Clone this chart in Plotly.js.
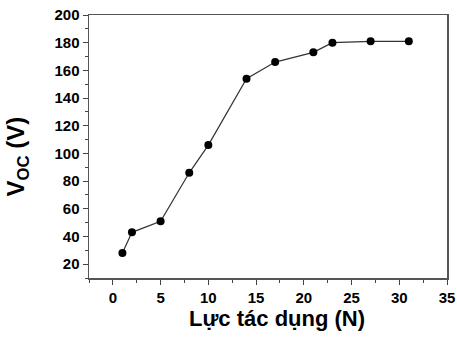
<!DOCTYPE html>
<html><head><meta charset="utf-8">
<script src="https://cdn.plot.ly/plotly-3.0.1.min.js"></script>
<style>html,body{margin:0;padding:0;background:#fff}#chart{width:457px;height:340px}</style>
</head><body><div id="chart"></div>
<script>
const force = [1, 2, 5, 8, 10, 14, 17, 21, 23, 27, 31];
const voc = [28, 43, 51, 86, 106, 154, 166, 173, 180, 181, 181];
const xTicks = [0, 5, 10, 15, 20, 25, 30, 35];
const yTicks = [20, 40, 60, 80, 100, 120, 140, 160, 180, 200];
const xMinor = [-2.5, 2.5, 7.5, 12.5, 17.5, 22.5, 27.5, 32.5];
const yMinor = [10, 30, 50, 70, 90, 110, 130, 150, 170, 190];
const xTitle = 'Lực tác dụng (N)';
const yTitle = 'V<sub>OC</sub> (V)';

const trace = {
  x: force, y: voc, type: 'scatter', mode: 'lines+markers',
  line: {color: '#333', width: 1.2},
  marker: {color: '#000', size: 8}
};
const fontFam = 'Liberation Sans';
const layout = {
  width: 457, height: 340,
  margin: {l: 89, r: 10, t: 15, b: 62},
  paper_bgcolor: '#fff', plot_bgcolor: '#fff',
  showlegend: false,
  font: {family: fontFam, color: '#000'},
  xaxis: {
    range: [-2.5, 35], tickvals: xTicks,
    ticks: 'outside', ticklen: 5, tickwidth: 1, tickcolor: '#444',
    minor: {ticks: 'outside', ticklen: 3, tickvals: xMinor, tickcolor: '#444', showgrid: false},
    showline: true, linecolor: '#555', linewidth: 1.5, mirror: true,
    showgrid: false, zeroline: false,
    tickfont: {size: 15, family: fontFam, color: '#000', weight: 'bold'}
  },
  yaxis: {
    range: [10, 200], tickvals: yTicks,
    ticks: 'outside', ticklen: 5, tickwidth: 1, tickcolor: '#444',
    minor: {ticks: 'outside', ticklen: 3, tickvals: yMinor, tickcolor: '#444', showgrid: false},
    showline: true, linecolor: '#555', linewidth: 1.5, mirror: true,
    showgrid: false, zeroline: false,
    tickfont: {size: 15, family: fontFam, color: '#000', weight: 'bold'}
  },
  annotations: [{
    text: '<b>' + xTitle + '</b>', xref: 'paper', yref: 'paper', x: 0.524, y: 0,
    xanchor: 'center', yanchor: 'top', yshift: -26, showarrow: false,
    font: {size: 22, family: fontFam, color: '#000'}
  }, {
    text: '<b>' + yTitle + '</b>', xref: 'paper', yref: 'paper', x: 0, y: 0.462,
    xanchor: 'center', yanchor: 'middle', xshift: -72, textangle: -90, showarrow: false,
    font: {size: 24, family: fontFam, color: '#000'}
  }]
};
Plotly.newPlot('chart', [trace], layout, {staticPlot: true, displayModeBar: false});
</script></body></html>
